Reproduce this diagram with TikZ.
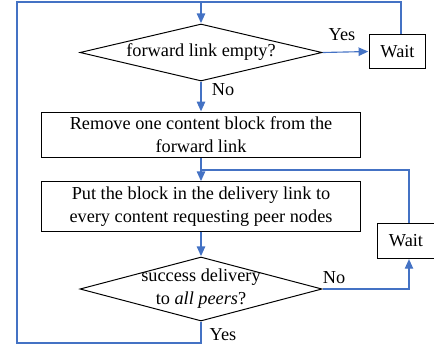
\documentclass[tikz,border=0pt]{standalone}
\usepackage{fontspec}
\setmainfont{Liberation Serif}
\usetikzlibrary{shapes.geometric}
\usetikzlibrary{arrows.meta}
\definecolor{linkblue}{RGB}{68,114,196}
\tikzset{
  decision/.style={draw, diamond, inner sep=0pt, minimum width=6.05cm, line width=.7pt},
  action/.style={draw, rectangle, align=center, minimum width=7.95cm, line width=.7pt},
  waitbox/.style={draw, rectangle, minimum width=1.42cm, minimum height=.86cm, line width=.7pt},
  link/.style={draw=linkblue, line width=.8pt},
  tolink/.style={link, -{Triangle[length=2.4mm,width=2.1mm]}, shorten >=.3pt}
}

\begin{document}
\begin{tikzpicture}[x=0.025cm, y=-0.025cm, font=\fontsize{13}{16.4}\selectfont]
\useasboundingbox (0,0) rectangle (434,350);
% the two tests
\node[decision, minimum height=1.425cm] (empty) at (201,52.5) {};
\node (emptytext) at (empty) {forward link empty?};
\node[decision, minimum height=1.6cm] (done) at (201,289) {};
\node[align=center] (donetext) at (done) {success delivery\\to \textit{all peers}?};
% the two steps
\node[action, minimum height=1.1cm] (remove) at (201,135) {Remove one content block from the\\forward link};
\node[action, minimum height=1.175cm] (put) at (201,206.5) {Put the block in the delivery link to\\every content requesting peer nodes};
% waiting
\node[waitbox] (wait1) at (397.5,51.5) {Wait};
\node[waitbox] (wait2) at (406,241) {Wait};
% corners of the loops
\coordinate (top) at (201,2);
\coordinate (topleft) at (17,2);
\coordinate (topright) at (401,2);
\coordinate (bottom) at (201,343);
\coordinate (bottomleft) at (17,343);
\coordinate (join) at (201,170);
\coordinate (joinright) at (409,170);
% branch labels
\node (yes1) at (342,35) {Yes};
\node (no1) at (223,90) {No};
\node (no2) at (334,278) {No};
\node (yes2) at (223,335) {Yes};
% main flow
\draw[tolink] (top) -- (empty.north);
\draw[tolink] (empty.east) -- (wait1.west);
\draw[tolink] (empty.south) -- (remove.north);
\draw[tolink] (remove.south) -- (put.north);
\draw[tolink] (put.south) -- (done.north);
% loops back
\draw[link] (topright |- wait1.north) -- (topright) -- (top);
\draw[link] (done.south) -- (bottom) -- (bottomleft) -- (topleft) -- (top);
\draw[link] (join) -- (joinright) -- (joinright |- wait2.north);
\draw[tolink] (done.east) -- (joinright |- done.east) -- (joinright |- wait2.south);
\end{tikzpicture}
\end{document}
